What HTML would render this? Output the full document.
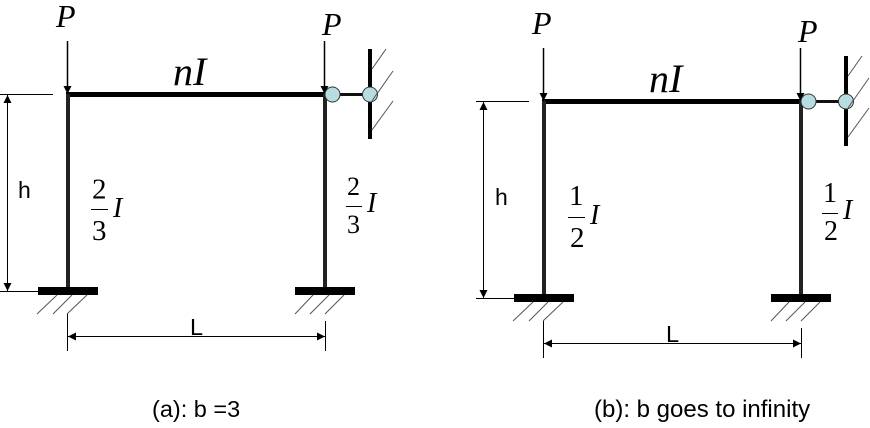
<!DOCTYPE html>
<html><head><meta charset="utf-8"><style>
html,body{margin:0;padding:0;background:#fff}
svg{display:block}
.m{font-family:"Liberation Serif",serif}
.i{font-style:italic}
.a{font-family:"Liberation Sans",sans-serif;fill:#000}
</style></head><body>
<svg width="870" height="428" viewBox="0 0 870 428" xmlns="http://www.w3.org/2000/svg">
<defs>
<g id="frame">
  <!-- dimension lines -->
  <g stroke="#000" stroke-width="1" fill="none">
    <path d="M0 94.5H53M0 291.5H38M7.5 95V291"/>
    <path d="M67.5 314V351M325.5 321V351M68 336.5H325"/>
  </g>
  <g fill="#000">
    <path d="M7.5 95L3.5 103H11.5Z"/>
    <path d="M7.5 291L3.5 283H11.5Z"/>
    <path d="M68 336.5L76 332.5V340.5Z"/>
    <path d="M325 336.5L317 332.5V340.5Z"/>
  </g>
  <!-- members -->
  <rect x="66" y="92" width="259" height="5" fill="#000"/>
  <rect x="66" y="94" width="4" height="194" fill="#222"/>
  <rect x="323" y="94" width="4" height="194" fill="#222"/>
  <rect x="38" y="287" width="60" height="8" fill="#000"/>
  <rect x="295" y="287" width="60" height="8" fill="#000"/>
  <!-- load arrows -->
  <path d="M67.5 41V90M324.5 41V90" stroke="#000" stroke-width="1.5" fill="none"/>
  <path d="M67.5 94L63.5 86H71.5ZM324.5 94L320.5 86H328.5Z" fill="#000"/>
  <!-- hatches -->
  <path d="M57 295L37 314M72 295L53 314M87 295L67 314M313 295L295 314M329 295L310 314M344 295L325 314" stroke="#555" stroke-width="1" fill="none"/>
  <!-- support -->
  <rect x="368" y="49" width="4" height="90" fill="#000"/>
  <path d="M372 69L386 49M372 101L393 71M372 130L393 101" stroke="#555" stroke-width="1" fill="none"/>
  <path d="M332 94.5H370" stroke="#111" stroke-width="3"/>
  <circle cx="332.5" cy="94.5" r="7.5" fill="#b7dde0" stroke="#333" stroke-width="1"/>
  <circle cx="370" cy="94.5" r="7.5" fill="#b7dde0" stroke="#333" stroke-width="1"/>
  <path d="M372 101L378 92" stroke="#555" stroke-width="1"/>
  <!-- labels -->
  <text class="m i" x="56" y="27" font-size="32">P</text>
  <text class="m i" x="322" y="35" font-size="32">P</text>
  <text class="m i" x="173" y="85" font-size="40">nI</text>
</g>
</defs>
<use href="#frame"/>
<use href="#frame" x="476" y="7"/>

<!-- left frame labels -->
<text class="a" x="18" y="198" font-size="23">h</text>
<text class="a" x="190" y="335" font-size="23.500">L</text>
<text class="m" x="92" y="198.500" font-size="29">2</text>
<path d="M91 209.500H108" stroke="#000" stroke-width="1"/>
<text class="m" x="92" y="240" font-size="29">3</text>
<text class="m i" x="113" y="217" font-size="28">I</text>
<text class="m" x="347" y="195" font-size="26">2</text>
<path d="M346 206.500H362" stroke="#000" stroke-width="1"/>
<text class="m" x="347" y="233" font-size="26">3</text>
<text class="m i" x="367" y="212" font-size="28">I</text>

<!-- right frame labels -->
<text class="a" x="495" y="205" font-size="23">h</text>
<text class="a" x="666" y="342" font-size="23.500">L</text>
<text class="m" x="569" y="205" font-size="29">1</text>
<path d="M568 217.500H585" stroke="#000" stroke-width="1"/>
<text class="m" x="570" y="247" font-size="29">2</text>
<text class="m i" x="590" y="224" font-size="28">I</text>
<text class="m" x="823" y="202" font-size="28">1</text>
<path d="M822 213.500H838" stroke="#000" stroke-width="1"/>
<text class="m" x="824" y="240" font-size="28">2</text>
<text class="m i" x="843" y="219" font-size="28">I</text>

<!-- captions -->
<text class="a" x="152" y="417" font-size="23.500">(a): b =3</text>
<text class="a" x="594" y="417" font-size="24">(b): b goes to infinity</text>
</svg>
</body></html>
